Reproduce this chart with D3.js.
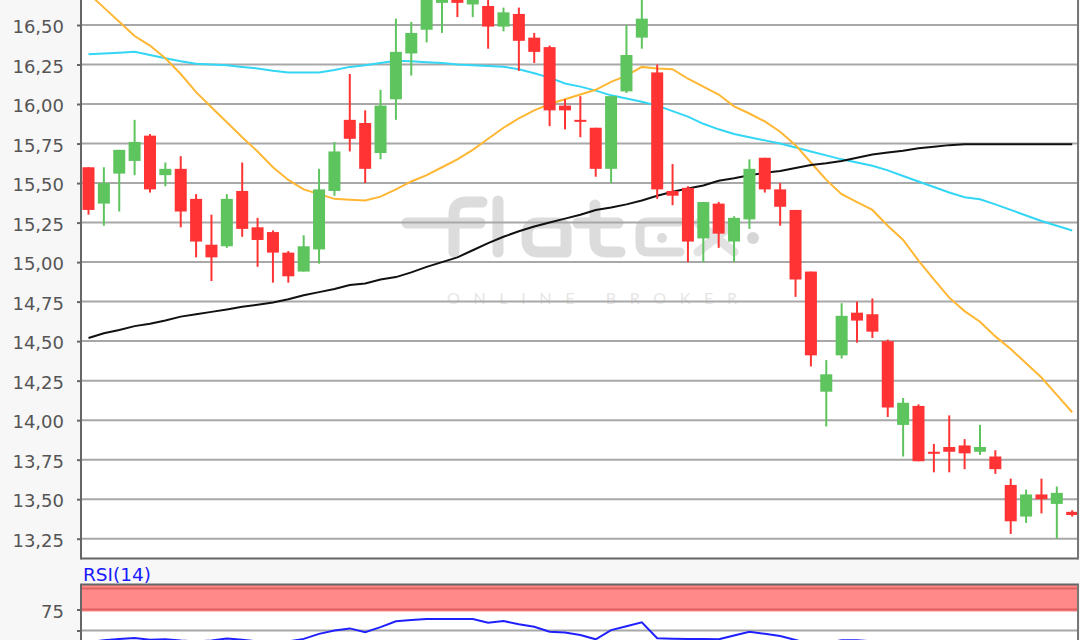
<!DOCTYPE html>
<html><head><meta charset="utf-8">
<script src="https://cdn.jsdelivr.net/npm/d3@7"></script>
<style>html,body{margin:0;padding:0;background:#f7f7f7;overflow:hidden}</style>
</head><body><svg id="c" width="1080" height="640"></svg>
<script>
// ---- data ----
const opens  = [15.60,15.37,15.56,15.64,15.80,15.55,15.59,15.40,15.11,15.10,15.45,15.22,15.19,15.06,14.94,15.08,15.45,15.90,15.88,15.69,16.03,16.32,16.47,16.64,16.72,16.63,16.62,16.49,16.57,16.42,16.36,15.99,15.90,15.85,15.59,16.08,16.42,16.20,15.45,15.47,15.15,15.37,15.13,15.27,15.66,15.46,15.33,14.94,14.18,14.41,14.68,14.67,14.50,13.97,14.09,13.80,13.83,13.84,13.80,13.77,13.59,13.39,13.53,13.47,13.42];
const highs  = [15.60,15.60,15.71,15.90,15.81,15.63,15.67,15.43,15.30,15.43,15.63,15.28,15.20,15.07,15.17,15.59,15.76,16.19,15.96,16.09,16.54,16.52,16.72,16.78,16.78,16.72,16.68,16.61,16.61,16.45,16.37,16.03,16.05,15.85,16.05,16.50,16.68,16.25,15.62,15.48,15.38,15.38,15.29,15.65,15.66,15.50,15.33,14.94,14.38,14.74,14.75,14.77,14.51,14.14,14.10,13.85,14.03,13.88,13.97,13.81,13.63,13.56,13.63,13.58,13.43];
const lows   = [15.30,15.23,15.32,15.55,15.44,15.48,15.22,15.03,14.88,15.09,15.16,14.97,14.87,14.87,14.94,14.99,15.42,15.70,15.50,15.65,15.90,16.18,16.39,16.45,16.55,16.55,16.35,16.46,16.21,16.26,15.86,15.84,15.79,15.54,15.50,16.07,16.35,15.40,15.36,15.00,15.00,15.09,15.00,15.21,15.44,15.23,14.78,14.34,13.96,14.39,14.49,14.52,14.02,13.77,13.74,13.67,13.67,13.69,13.78,13.66,13.28,13.35,13.41,13.25,13.39];
const closes = [15.33,15.50,15.71,15.76,15.46,15.59,15.32,15.13,15.03,15.40,15.21,15.14,15.06,14.91,15.10,15.46,15.70,15.78,15.59,15.99,16.33,16.45,16.66,16.72,16.64,16.68,16.49,16.58,16.40,16.33,15.96,15.96,15.89,15.59,16.05,16.31,16.54,15.46,15.42,15.13,15.38,15.18,15.28,15.59,15.46,15.35,14.89,14.41,14.29,14.66,14.63,14.56,14.08,14.11,13.74,13.79,13.80,13.79,13.83,13.69,13.36,13.53,13.50,13.54,13.40];
const maShort = [16.70,16.61,16.52,16.43,16.37,16.29,16.19,16.075,15.98,15.885,15.79,15.70,15.60,15.52,15.46,15.43,15.40,15.395,15.39,15.414,15.46,15.51,15.55,15.60,15.65,15.71,15.78,15.85,15.91,15.96,16.00,16.03,16.06,16.09,16.14,16.18,16.235,16.225,16.22,16.16,16.11,16.06,15.985,15.94,15.89,15.825,15.74,15.63,15.52,15.43,15.38,15.33,15.23,15.14,15.01,14.89,14.775,14.69,14.623,14.53,14.45,14.36,14.27,14.16,14.05];
const maMid = [16.315,16.32,16.325,16.33,16.31,16.29,16.27,16.255,16.25,16.245,16.235,16.225,16.21,16.20,16.20,16.20,16.215,16.235,16.245,16.26,16.274,16.27,16.265,16.26,16.25,16.245,16.24,16.236,16.22,16.195,16.167,16.13,16.11,16.085,16.055,16.035,16.015,15.99,15.955,15.92,15.875,15.84,15.81,15.79,15.77,15.75,15.725,15.70,15.675,15.65,15.63,15.61,15.58,15.545,15.51,15.475,15.44,15.41,15.397,15.365,15.33,15.295,15.26,15.23,15.20];
const maLong = [14.52,14.55,14.57,14.595,14.61,14.63,14.655,14.67,14.685,14.70,14.717,14.73,14.745,14.765,14.79,14.81,14.83,14.855,14.865,14.89,14.905,14.935,14.97,15.00,15.03,15.075,15.12,15.16,15.195,15.225,15.25,15.275,15.30,15.33,15.345,15.365,15.39,15.42,15.445,15.465,15.485,15.515,15.53,15.55,15.565,15.576,15.595,15.614,15.625,15.64,15.66,15.68,15.693,15.705,15.72,15.73,15.74,15.745,15.745,15.745,15.745,15.745,15.745,15.745,15.745];
const rsi = [36,38.5,40,41,39,39.5,38,37,38,40.5,39,37,36,37,40,46,50,52.5,48,54,61,62.5,63.7,63.7,63.7,63.7,59.3,61.3,57.5,54.5,48.5,47.5,44.6,39.5,50.5,55,59.8,40.7,40.3,40,39.9,39.5,44,48.6,46,43.5,38.7,34,35,38.5,38.5,37,30,33,27,26,26,27,28,26,22,25,25,26,25];
const priceTicks = [13.25,13.5,13.75,14,14.25,14.5,14.75,15,15.25,15.5,15.75,16,16.25,16.5];
const rsiTicks = [50,75];
const rsiLabelled = [75];
const rsiBand = [75,100];

// ---- layout ----
const W=1080,H=640, L=81, R=1078, mainBottom=558.5, rsiTop=584.5;
const svg=d3.select("#c");
const loc=d3.formatLocale({decimal:",",thousands:".",grouping:[3],currency:["","€"]});
const fmt=loc.format(".2f");

const x=d3.scaleLinear().domain([0,opens.length-1]).range([88.5,1072.2]);
const y=d3.scaleLinear().domain([13.25,16.5]).range([538.7,25]);
const yR=d3.scaleLinear().domain([50,75]).range([630.5,609.5]);
const step=x(1)-x(0);
const bodyW=Math.round(step*0.78);

// backgrounds
svg.append("rect").attr("x",0).attr("y",0).attr("width",W).attr("height",H).attr("fill","#f7f7f7");
svg.append("rect").attr("x",L).attr("y",-60).attr("width",R-L).attr("height",mainBottom+60).attr("fill","#ffffff");
svg.append("rect").attr("x",L).attr("y",rsiTop).attr("width",R-L).attr("height",H-rsiTop+40).attr("fill","#ffffff");

// watermark (flatex logo, drawn with rounded strokes)
const wm=svg.append("g").attr("fill","none").attr("stroke","#dcdcdc").attr("stroke-width",11)
  .attr("stroke-linecap","round").attr("stroke-linejoin","round");
wm.append("path").attr("d","M454,252 L454,214 Q454,202 467,202 L482,202");           // f stem + hook
wm.append("path").attr("d","M407,223 L480,223");                                      // f crossbar
wm.append("path").attr("d","M498,201 L498,252");                                      // l
wm.append("path").attr("d","M566,230 Q566,223 556,223 L538,223 Q527,223 527,235 L527,240 Q527,252 539,252 L566,252 L566,230"); // a
wm.append("path").attr("d","M595,205 L595,241 Q595,252 607,252 L620,252");           // t stem
wm.append("path").attr("d","M578,223 L618,223");                                      // t crossbar
wm.append("path").attr("d","M680,222 L648,222 Q640,222 640,230 L640,244 Q640,252 648,252 L680,252").attr("stroke-width",9); // box
wm.append("circle").attr("cx",662).attr("cy",238).attr("r",5).attr("fill","#dcdcdc").attr("stroke","none");
wm.append("path").attr("d","M698,223 L734,252 M734,223 L698,252").attr("stroke","#e2e2e2").attr("stroke-width",9);
wm.append("circle").attr("cx",753).attr("cy",238).attr("r",6).attr("fill","#d6d6d6").attr("stroke","none");
svg.append("text").attr("x",447).attr("y",304).attr("font-family","Lato, 'Open Sans', sans-serif")
  .attr("font-size",16).attr("fill","#e6e6e6").attr("textLength",290).attr("lengthAdjust","spacing").text("ONLINE BROKER");

// main gridlines
svg.append("g").selectAll("line").data(priceTicks.concat([16.75])).join("line")
  .attr("x1",L).attr("x2",R).attr("y1",d=>y(d)).attr("y2",d=>y(d))
  .attr("stroke","#a8a8a8").attr("stroke-width",2);

// main axis
const ax=svg.append("g").attr("transform",`translate(${L},0)`)
  .call(d3.axisLeft(y).tickValues(priceTicks).tickFormat(fmt).tickSizeInner(4).tickSizeOuter(0).tickPadding(13));
ax.select(".domain").remove();
ax.selectAll("line").attr("stroke","#666").attr("stroke-width",2);
ax.selectAll("text").attr("font-family","'DejaVu Sans', sans-serif").attr("font-size",18).attr("fill","#555").attr("dy","0.42em");

// moving averages
const lineGen=arr=>d3.line().x((d,i)=>x(i)).y(d=>y(d)).curve(d3.curveLinear)(arr);
svg.append("path").attr("d",lineGen(maMid)).attr("fill","none").attr("stroke","#33d6f5").attr("stroke-width",2);
svg.append("path").attr("d",lineGen(maShort)).attr("fill","none").attr("stroke","#ffb733").attr("stroke-width",2);
svg.append("path").attr("d",lineGen(maLong)).attr("fill","none").attr("stroke","#111").attr("stroke-width",2);

// candles
const candles=opens.map((o,i)=>({i,o,h:highs[i],l:lows[i],c:closes[i]}));
const col=d=>d.c>=d.o?"#5ec45e":"#ff3333";
const cg=svg.append("g");
cg.selectAll("line").data(candles).join("line")
  .attr("x1",d=>x(d.i)).attr("x2",d=>x(d.i)).attr("y1",d=>y(d.h)).attr("y2",d=>y(d.l))
  .attr("stroke",col).attr("stroke-width",2);
cg.selectAll("rect").data(candles).join("rect")
  .attr("x",d=>x(d.i)-bodyW/2).attr("width",bodyW)
  .attr("y",d=>y(Math.max(d.o,d.c)))
  .attr("height",d=>Math.max(2,Math.abs(y(d.o)-y(d.c))))
  .attr("fill",col);

// main borders
svg.append("rect").attr("x",0).attr("y",mainBottom+1).attr("width",W).attr("height",rsiTop-mainBottom-2).attr("fill","#f7f7f7");
svg.append("line").attr("x1",L).attr("x2",R).attr("y1",mainBottom).attr("y2",mainBottom).attr("stroke","#666").attr("stroke-width",2);
svg.append("line").attr("x1",L).attr("x2",L).attr("y1",-10).attr("y2",mainBottom+1).attr("stroke","#666").attr("stroke-width",2);
svg.append("line").attr("x1",R).attr("x2",R).attr("y1",-10).attr("y2",mainBottom+1).attr("stroke","#777").attr("stroke-width",2);

// RSI panel
svg.append("rect").attr("x",L).attr("y",rsiTop).attr("width",R-L).attr("height",yR(rsiBand[0])+2-rsiTop).attr("fill","#ff8888");
svg.append("g").selectAll("line").data(rsiBand).join("line")
  .attr("x1",L).attr("x2",R).attr("y1",d=>yR(d)).attr("y2",d=>yR(d)).attr("stroke","#e06363").attr("stroke-width",2);
svg.append("g").selectAll("line").data([50]).join("line")
  .attr("x1",L).attr("x2",R).attr("y1",d=>yR(d)).attr("y2",d=>yR(d)).attr("stroke","#a8a8a8").attr("stroke-width",2);
svg.append("path").attr("d",d3.line().x((d,i)=>x(i)).y(d=>yR(d))(rsi)).attr("fill","none").attr("stroke","#2020ff").attr("stroke-width",2);
const axR=svg.append("g").attr("transform",`translate(${L},0)`)
  .call(d3.axisLeft(yR).tickValues(rsiTicks).tickFormat(d=>rsiLabelled.includes(d)?d:"").tickSizeInner(4).tickSizeOuter(0).tickPadding(13));
axR.select(".domain").remove();
axR.selectAll("line").attr("stroke","#666").attr("stroke-width",2);
axR.selectAll("text").attr("font-family","'DejaVu Sans', sans-serif").attr("font-size",18).attr("fill","#555").attr("dy","0.42em");
svg.append("line").attr("x1",L-1).attr("x2",R+1).attr("y1",rsiTop).attr("y2",rsiTop).attr("stroke","#666").attr("stroke-width",2);
svg.append("line").attr("x1",L).attr("x2",L).attr("y1",rsiTop).attr("y2",H+10).attr("stroke","#666").attr("stroke-width",2);
svg.append("line").attr("x1",R).attr("x2",R).attr("y1",rsiTop).attr("y2",H+10).attr("stroke","#777").attr("stroke-width",2);
svg.append("text").attr("x",83).attr("y",581).attr("font-family","'DejaVu Sans', sans-serif").attr("font-size",18.5).attr("fill","#1a1aff").text("RSI(14)");
</script></body></html>
